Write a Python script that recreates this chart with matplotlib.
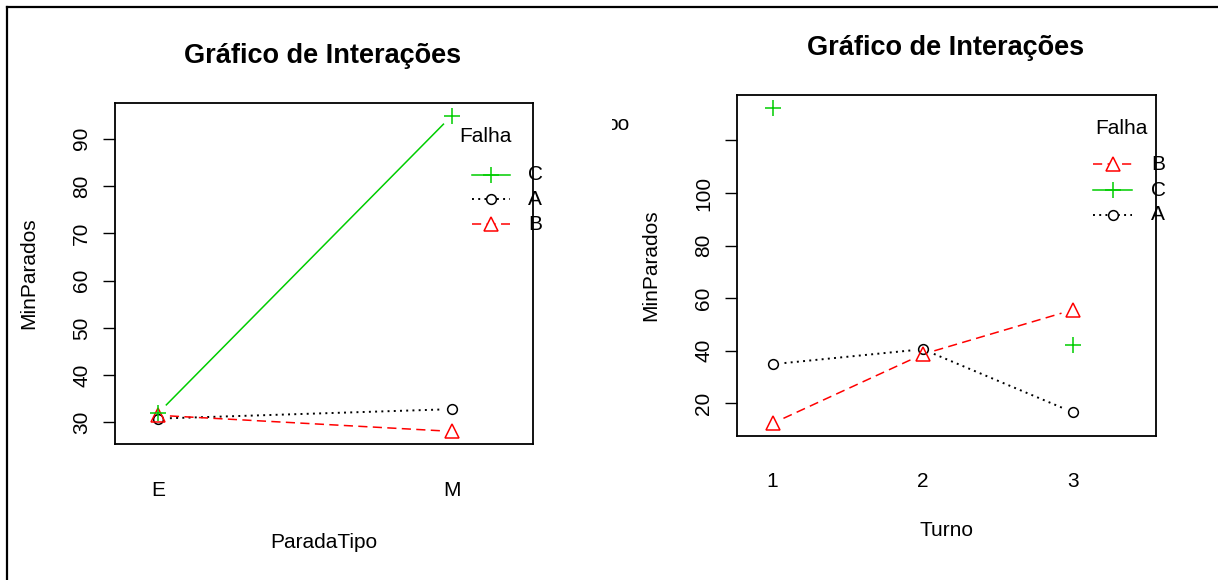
import numpy as np
import matplotlib
matplotlib.use("Agg")
import matplotlib.pyplot as plt
from matplotlib.lines import Line2D
from matplotlib.transforms import Bbox

plt.rcParams['font.family'] = ['Liberation Sans', 'DejaVu Sans']

W, H = 1218, 580

# dados
parada_niveis = ['E', 'M']
parada_A = [30.8, 32.8]
parada_B = [31.5, 28.1]
parada_C = [31.9, 94.9]
parada_ordem_legenda = ['C', 'A', 'B']

turno_niveis = ['1', '2', '3']
turno_A = [34.9, 40.6, 16.6]
turno_B = [12.4, 38.7, 55.6]
turno_C = [132.5, np.nan, 42.3]
turno_ordem_legenda = ['B', 'C', 'A']

titulo = "Gráfico de Interações"

# estilos de cada falha (como no interaction.plot do R)
estilos = {
    'A': dict(color='black', ls=(0, (1, 2.2)), lw=1.4, marker='o', ms=7),
    'B': dict(color='red', ls=(0, (6, 3.5)), lw=1.1, marker='^', ms=10),
    'C': dict(color='#00CD00', ls='-', lw=1.1, marker='+', ms=11),
}

FS = 15
GAP = 12  # espaço (px) entre linha e marcador, tipo "b"


def px(x, y):
    return x / W, 1 - y / H


def eixo(x0, y0, x1, y1):
    return fig.add_axes([x0 / W, (H - y1) / H, (x1 - x0) / W, (y1 - y0) / H])


def linha_b(ax, xs, ys, est):
    # linha com espaço ao redor dos pontos
    pts = ax.transData.transform(np.column_stack([xs, ys]))
    inv = ax.transData.inverted()
    for i in range(len(xs) - 1):
        if np.isnan(ys[i]) or np.isnan(ys[i + 1]):
            continue
        p0, p1 = pts[i], pts[i + 1]
        d = p1 - p0
        n = np.hypot(*d)
        if n <= 2 * GAP:
            continue
        u = d / n
        a = inv.transform(p0 + u * GAP)
        b = inv.transform(p1 - u * GAP)
        ax.plot([a[0], b[0]], [a[1], b[1]], color=est['color'], ls=est['ls'], lw=est['lw'])
    ax.plot(xs, ys, ls='none', marker=est['marker'], ms=est['ms'], mfc='none',
            mec=est['color'], mew=1.1, clip_on=False)


def legenda(x_titulo, y_titulo, x_linha, x_texto, ys, ordem):
    fig.text(*px(x_titulo, y_titulo), "Falha", fontsize=FS, ha='left', va='center')
    for nome, y in zip(ordem, ys):
        est = estilos[nome]
        xa, xb = x_linha
        fig.add_artist(Line2D([xa / W, xb / W], [1 - y / H] * 2, color=est['color'],
                              ls=est['ls'], lw=est['lw'], transform=fig.transFigure))
        fig.add_artist(Line2D([(xa + xb) / 2 / W], [1 - y / H], ls='none',
                              marker=est['marker'], ms=est['ms'], mfc='white',
                              mec=est['color'], mew=1.1, transform=fig.transFigure))
        fig.text(*px(x_texto, y), nome, fontsize=FS, ha='left', va='center')


def painel(ax, niveis, series, xlim, yticks, ylabels, xpad):
    xs = np.arange(1, len(niveis) + 1)
    todos = np.concatenate([np.asarray(s, float) for s in series.values()])
    lo, hi = np.nanmin(todos), np.nanmax(todos)
    r = hi - lo
    ax.set_xlim(*xlim)
    ax.set_ylim(lo - 0.04 * r, hi + 0.04 * r)
    for nome, ys in series.items():
        linha_b(ax, xs, np.asarray(ys, float), estilos[nome])
    ax.set_xticks(xs)
    ax.set_xticklabels(niveis, fontsize=FS)
    ax.tick_params(axis='x', length=0, pad=xpad)
    ax.set_yticks(yticks)
    ax.set_yticklabels(ylabels, fontsize=FS, rotation=90, va='center')
    ax.tick_params(axis='y', length=9, width=1.0, pad=8)
    for s in ax.spines.values():
        s.set_linewidth(1.3)


fig = plt.figure(figsize=(W / 100, H / 100), dpi=100)

# moldura
fig.add_artist(Line2D([7 / W, 1], [1 - 7 / H] * 2, color='black', lw=1.6, transform=fig.transFigure))
fig.add_artist(Line2D([7 / W] * 2, [0, 1 - 7 / H], color='black', lw=1.6, transform=fig.transFigure))

# painel esquerdo: ParadaTipo
ax1 = eixo(114.7, 103, 533, 444)
painel(ax1, parada_niveis, {'A': parada_A, 'B': parada_B, 'C': parada_C},
       (0.853, 2.276), [30, 40, 50, 60, 70, 80, 90],
       ['30', '40', '50', '60', '70', '80', '90'], 27)
fig.text(*px(323, 56), titulo, fontsize=19.5, fontweight='bold', ha='center', va='center')
fig.text(*px(324, 542), "ParadaTipo", fontsize=FS, ha='center', va='center')
fig.text(*px(29, 273), "MinParados", fontsize=FS, ha='center', va='center', rotation=90)
legenda(459, 136, (472, 510), 528, [175, 199, 224], parada_ordem_legenda)

# painel direito: Turno
ax2 = eixo(736.8, 95, 1155.8, 436)
painel(ax2, turno_niveis, {'A': turno_A, 'B': turno_B, 'C': turno_C},
       (0.762, 3.551), [20, 40, 60, 80, 100, 120],
       ['20', '40', '60', '80', '100', ''], 26)
fig.text(*px(946, 48), titulo, fontsize=19.5, fontweight='bold', ha='center', va='center')
fig.text(*px(946, 531), "Turno", fontsize=FS, ha='center', va='center')
fig.text(*px(651, 265), "MinParados", fontsize=FS, ha='center', va='center', rotation=90)
legenda(1095, 128, (1093, 1132), 1151, [164, 190, 215], turno_ordem_legenda)

# resto de texto cortado entre os painéis
t = fig.text(*px(606, 125), "oo", fontsize=FS, ha='left', va='center')
t.set_clip_box(Bbox.from_extents(612, 0, W, H))
t.set_clip_on(True)

fig.savefig("out.png", dpi=100)
